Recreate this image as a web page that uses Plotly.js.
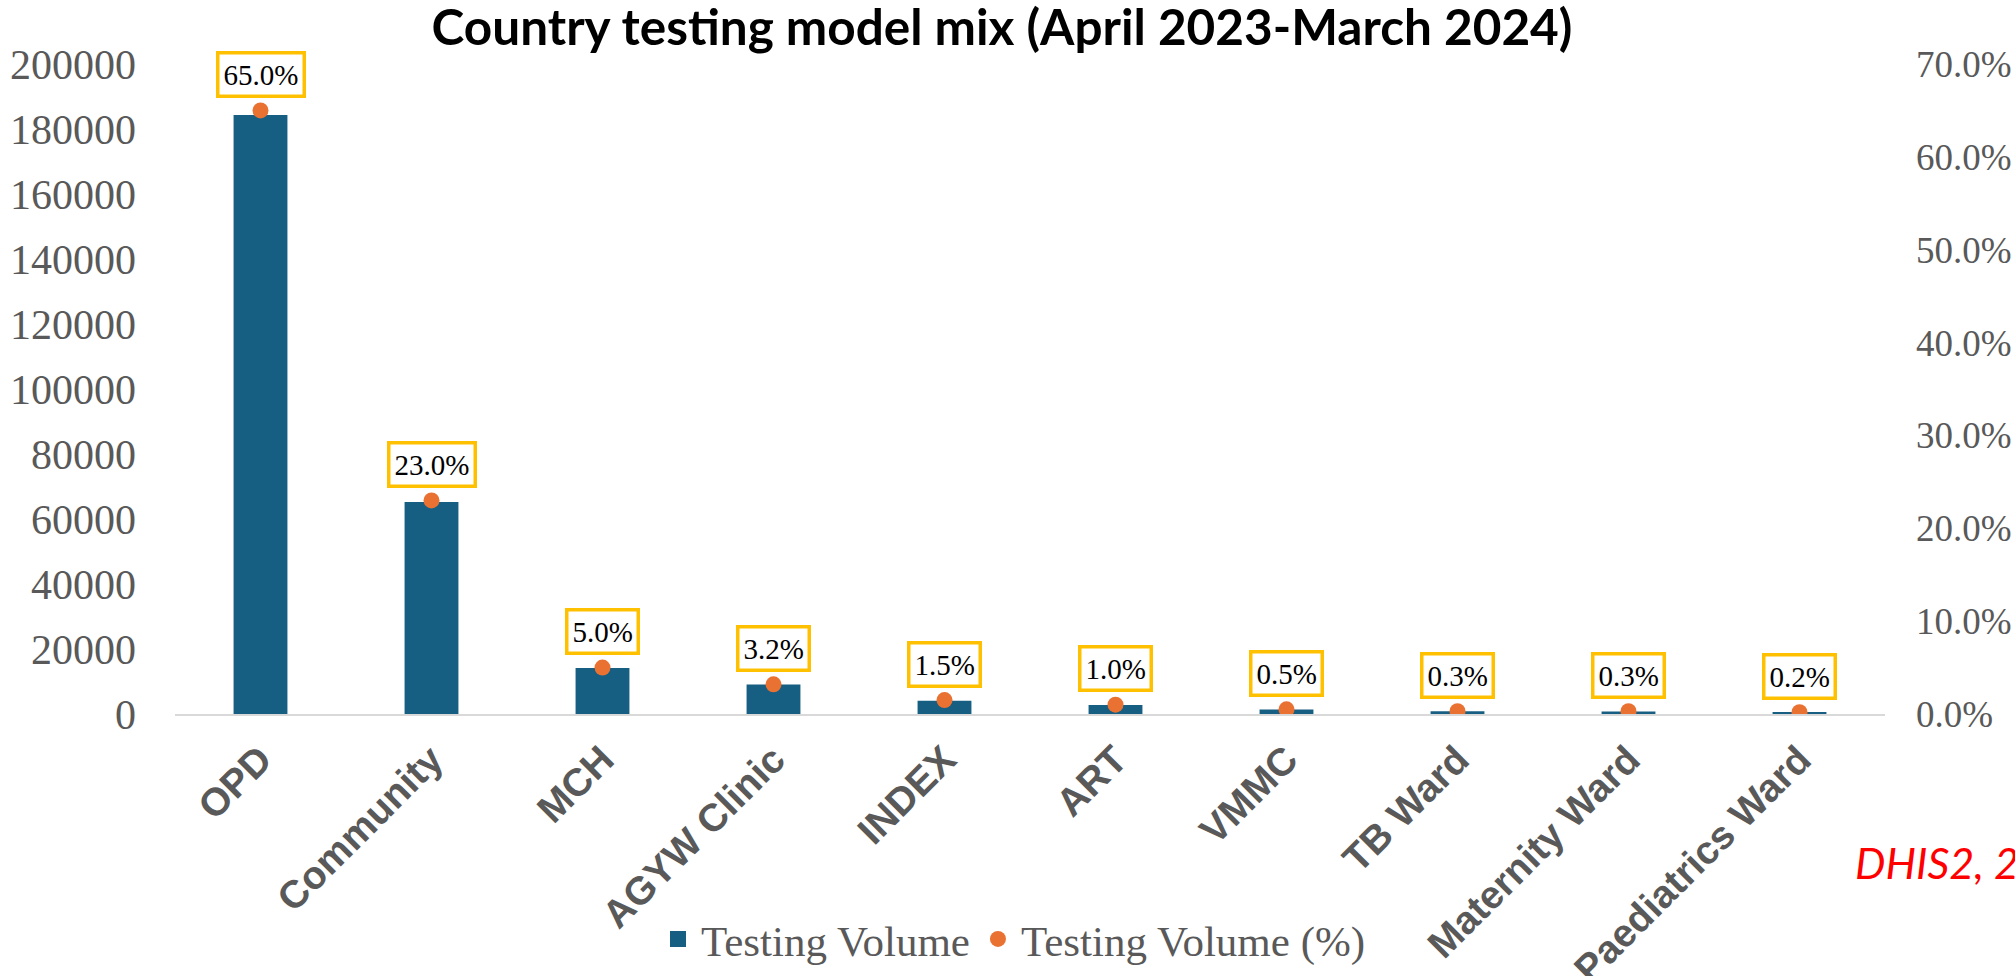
<!DOCTYPE html>
<html>
<head>
<meta charset="utf-8">
<script src="https://cdn.plot.ly/plotly-3.0.1.min.js"></script>
<style>
  html, body { margin: 0; padding: 0; background: #ffffff; }
  #chart { width: 2015px; height: 976px; }
</style>
</head>
<body>
<div id="chart"></div>
<script>
// ---- Data ----
var categories = ["OPD", "Community", "MCH", "AGYW Clinic", "INDEX", "ART", "VMMC", "TB Ward", "Maternity Ward", "Paediatrics Ward"];
var testingVolume = [184300, 65200, 14150, 9100, 4100, 2800, 1350, 850, 750, 550];
var testingPct = [0.650, 0.230, 0.050, 0.032, 0.015, 0.010, 0.005, 0.003, 0.003, 0.002];
var leftTicks = [0, 20000, 40000, 60000, 80000, 100000, 120000, 140000, 160000, 180000, 200000];
var rightTicks = [0, 0.1, 0.2, 0.3, 0.4, 0.5, 0.6, 0.7];
var seriesNames = ["Testing Volume", "Testing Volume (%)"];
var titleText = "Country testing model mix (April 2023-March 2024)";
var sourceText = "DHIS2, 2024";

var barColor = "#175F82";
var dotColor = "#E97132";
var boxColor = "#FFC000";
var grey = "#595959";
var serif = "Liberation Serif, Times New Roman, serif";

var traces = [
  {
    type: "bar",
    name: seriesNames[0],
    x: categories,
    y: testingVolume,
    yaxis: "y",
    width: 0.315,
    marker: { color: barColor },
    showlegend: false,
    hoverinfo: "x+y"
  },
  {
    // legend entry for the bars (square swatch like the reference)
    type: "scatter",
    mode: "markers",
    name: seriesNames[0],
    x: [null],
    y: [null],
    yaxis: "y",
    marker: { color: barColor, symbol: "square", size: 18 },
    hoverinfo: "skip"
  },
  {
    type: "scatter",
    mode: "markers",
    name: seriesNames[1],
    x: categories,
    y: testingPct,
    yaxis: "y2",
    marker: { color: dotColor, size: 16 },
    hoverinfo: "x+y"
  }
];

var annotations = categories.map(function (c, i) {
  return {
    x: c,
    y: testingPct[i],
    xref: "x",
    yref: "y2",
    yshift: 36,
    showarrow: false,
    text: (testingPct[i] * 100).toFixed(1) + "%",
    font: { family: serif, size: 29, color: "#000000" },
    bgcolor: "#ffffff",
    bordercolor: boxColor,
    borderwidth: 3.5,
    borderpad: 4
  };
});

annotations.push({
  xref: "paper", yref: "paper",
  x: (1853 - 175) / 1710, y: (714 - 863) / 650,
  xanchor: "left", yanchor: "middle",
  showarrow: false,
  text: "<i>" + sourceText + "</i>",
  font: { family: "Lato, Open Sans, sans-serif", size: 43, color: "#FF0000" }
});

var layout = {
  width: 2015,
  height: 976,
  margin: { l: 175, r: 130, t: 64, b: 262, pad: 0 },
  paper_bgcolor: "#ffffff",
  plot_bgcolor: "#ffffff",
  showlegend: true,
  title: {
    text: "<b>" + titleText + "</b>",
    font: { family: "Lato, Open Sans, sans-serif", size: 49.5, color: "#000000" },
    xref: "container", yref: "container",
    x: 1002 / 2015, xanchor: "center",
    y: 1 - 28 / 976, yanchor: "middle"
  },
  xaxis: {
    type: "category",
    range: [-0.5, 9.5],
    autorange: false,
    showgrid: false,
    zeroline: false,
    showline: true,
    linecolor: "#D9D9D9",
    linewidth: 2,
    ticks: "",
    tickangle: -45,
    ticklabelstandoff: 5,
    tickfont: { family: "Liberation Sans, Arial, sans-serif", size: 39, color: grey, weight: "bold" }
  },
  yaxis: {
    range: [0, 200000],
    autorange: false,
    tickvals: leftTicks,
    ticktext: leftTicks.map(function (v) { return String(v); }),
    showgrid: false,
    zeroline: false,
    showline: false,
    ticks: "",
    ticklabelstandoff: 38,
    tickfont: { family: serif, size: 42, color: grey }
  },
  yaxis2: {
    overlaying: "y",
    side: "right",
    range: [0, 0.7],
    autorange: false,
    tickvals: rightTicks,
    tickformat: ".1%",
    showgrid: false,
    zeroline: false,
    showline: false,
    ticks: "",
    ticklabelstandoff: 30,
    tickfont: { family: serif, size: 37, color: grey }
  },
  legend: {
    orientation: "h",
    traceorder: "normal",
    xref: "container", yref: "container",
    x: 655 / 2015, xanchor: "left",
    y: 1 - 939 / 976, yanchor: "middle",
    itemwidth: 36,
    font: { family: serif, size: 43, color: grey },
    bgcolor: "rgba(0,0,0,0)"
  },
  bargap: 0.68,
  annotations: annotations
};

Plotly.newPlot("chart", traces, layout, { displayModeBar: false, responsive: false });
</script>
</body>
</html>
